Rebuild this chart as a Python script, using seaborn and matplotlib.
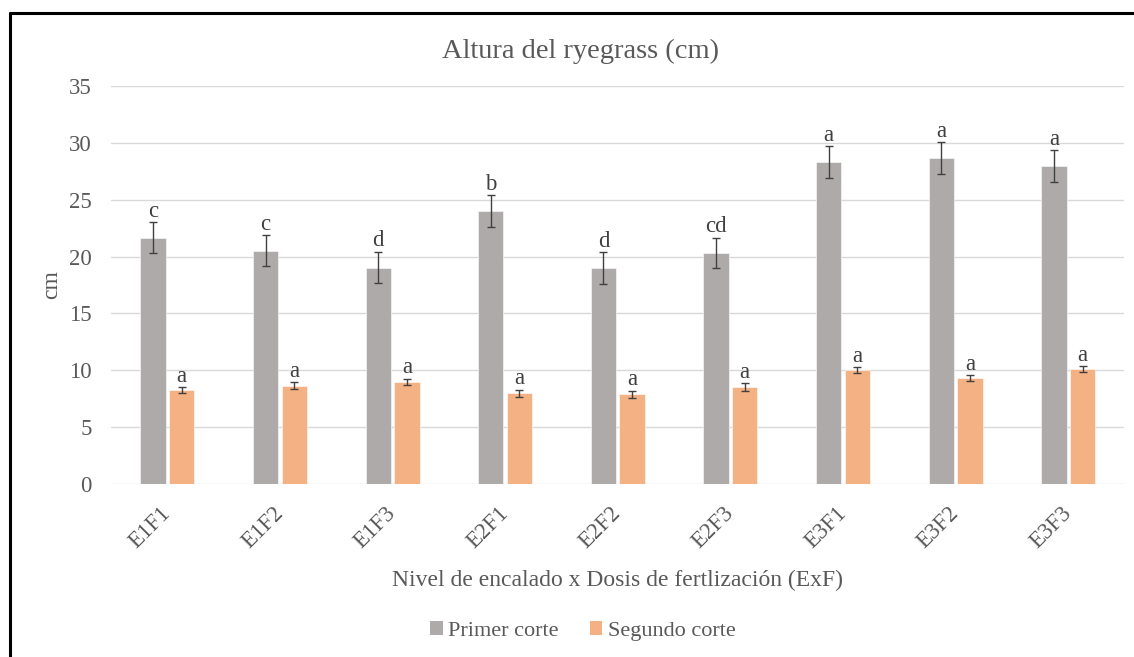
import numpy as np
import pandas as pd
import seaborn as sns
import matplotlib
matplotlib.use("Agg")
import matplotlib.pyplot as plt
from matplotlib.lines import Line2D
from matplotlib.patches import Patch

# Treatments (liming level x fertilization dose)
categories = ["E1F1", "E1F2", "E1F3", "E2F1", "E2F2", "E2F3", "E3F1", "E3F2", "E3F3"]
series = ["Primer corte", "Segundo corte"]

# Mean ryegrass height (cm) per cut
primer = [21.66, 20.52, 19.03, 23.98, 18.97, 20.32, 28.32, 28.67, 27.97]
segundo = [8.24, 8.65, 8.97, 7.98, 7.89, 8.53, 10.00, 9.29, 10.09]

# Error bar half-lengths (cm)
primer_err = [1.36, 1.35, 1.37, 1.40, 1.40, 1.35, 1.37, 1.38, 1.38]
segundo_err = [0.26, 0.30, 0.30, 0.30, 0.30, 0.32, 0.26, 0.27, 0.25]

# Significance letters
primer_letters = ["c", "c", "d", "b", "d", "cd", "a", "a", "a"]
segundo_letters = ["a"] * 9

colors = {"Primer corte": "#AEAAAA", "Segundo corte": "#F4B183"}
text_color = "#595959"

df = pd.DataFrame({
    "Tratamiento": categories * 2,
    "Corte": [series[0]] * len(categories) + [series[1]] * len(categories),
    "Altura": primer + segundo,
})

sns.set_theme(style="white")
plt.rcParams["font.family"] = ["Liberation Serif", "DejaVu Serif"]

fig = plt.figure(figsize=(11.34, 6.57), dpi=100)
ax = fig.add_axes([0.0979, 0.2633, 0.8937, 0.6058])

sns.barplot(data=df, x="Tratamiento", y="Altura", hue="Corte", order=categories,
            hue_order=series, palette=colors, width=0.509, gap=0.116,
            errorbar=None, saturation=1, ax=ax, legend=False,
            edgecolor="white", linewidth=0.4)

errs = [primer_err, segundo_err]
vals = [primer, segundo]
letters = [primer_letters, segundo_letters]
for cont, v, e, lab in zip(ax.containers, vals, errs, letters):
    xs = [p.get_x() + p.get_width() / 2 for p in cont.patches]
    ax.errorbar(xs, v, yerr=e, fmt="none", ecolor="#404040", elinewidth=1.0,
                capsize=3.2, capthick=1.0, zorder=5)
    for x, y, err, t in zip(xs, v, e, lab):
        ax.text(x, y + err + 0.05, t, ha="center", va="bottom", fontsize=16.5,
                color="#404040", zorder=6)

ax.set_ylim(0, 35)
ax.set_xlim(-0.5, len(categories) - 0.5)
ax.set_yticks(np.arange(0, 36, 5))
ax.yaxis.grid(True, color="#D9D9D9", linewidth=1.0)
ax.set_axisbelow(True)
for s in ax.spines.values():
    s.set_visible(False)
ax.tick_params(axis="y", length=0, pad=14, labelsize=16.5, labelcolor=text_color)
ax.tick_params(axis="x", length=0, pad=19, labelsize=16.5, labelcolor=text_color)
for lbl in ax.get_xticklabels():
    lbl.set_rotation(45)
    lbl.set_ha("right")
    lbl.set_va("center")
    lbl.set_rotation_mode("anchor")

ax.set_xlabel("Nivel de encalado x Dosis de fertlización (ExF)", fontsize=17,
              color=text_color, labelpad=12)
ax.set_ylabel("cm", fontsize=17, color=text_color, labelpad=5)
ax.set_title("Altura del ryegrass (cm)", fontsize=20.5, color=text_color, pad=20,
             x=(581 - 111) / (1124.5 - 111))

handles = [Patch(facecolor=colors[s], edgecolor="none", label=s) for s in series]
fig.legend(handles=handles, loc="center", bbox_to_anchor=(0.514, 1 - 631 / 657),
           ncol=2, frameon=False, fontsize=16, labelcolor=text_color,
           handlelength=0.55, handleheight=0.55, handletextpad=0.25,
           columnspacing=1.4)

# Outer frame lines
fig.add_artist(Line2D([10 / 1134, 1.0], [1 - 13 / 657, 1 - 13 / 657],
                      transform=fig.transFigure, color="black", linewidth=2.2))
fig.add_artist(Line2D([10 / 1134, 10 / 1134], [0.0, 1 - 13 / 657],
                      transform=fig.transFigure, color="black", linewidth=2.2))

fig.savefig("out.png", dpi=100)
